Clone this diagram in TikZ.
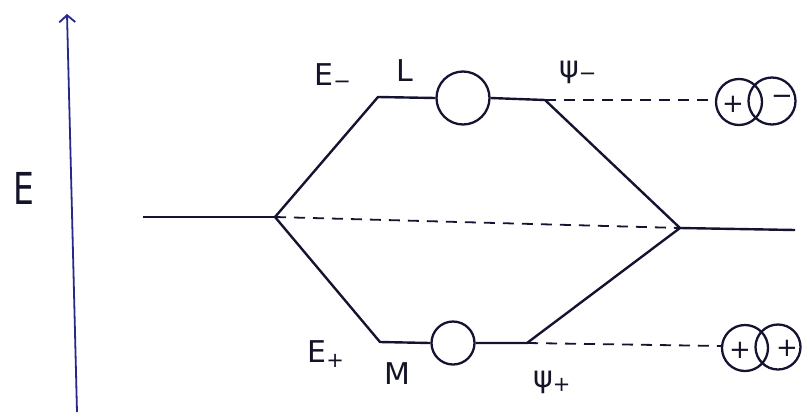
\documentclass[tikz,border=0pt]{standalone}
\usepackage{fontspec}
\setmainfont{DejaVu Sans}
\usetikzlibrary{arrows.meta}
\begin{document}
\begin{tikzpicture}[x=1pt,y=-1pt,
  ink/.style={draw={rgb,255:red,20;green,20;blue,50}, line width=2.4pt},
  axisline/.style={draw={rgb,255:red,40;green,40;blue,140}, line width=1.8pt},
  dashline/.style={ink, line width=1.8pt, dash pattern=on 11pt off 8pt},
  lobe/.style={circle, ink, line width=2.3pt, inner sep=0pt},
  lbl/.style={font=\fontsize{30}{34}\selectfont, text={rgb,255:red,20;green,20;blue,40}, inner sep=0pt},
  sgn/.style={font=\fontsize{26}{30}\selectfont, text={rgb,255:red,20;green,20;blue,40}, inner sep=0pt}]
\useasboundingbox (0,0) rectangle (810,418);
% energy axis
\coordinate (ab) at (77,412);
\coordinate (at) at (67,14);
\draw[axisline, -{Straight Barb[length=7pt,width=16pt]}] (ab) -- (at);
\node[lbl, font=\fontsize{44}{48}\selectfont, xscale=0.75] (E) at (24,188) {E};
% central level
\coordinate (c0) at (143,217);
\coordinate (cL) at (275,217);
\coordinate (cR) at (680,228);
\coordinate (c1) at (795,230);
\draw[ink] (c0) -- (cL);
\draw[ink] (cR) -- (c1);
\draw[dashline] (cL) -- (cR);
% upper (antibonding)
\coordinate (u1) at (378,97);
\node[lobe, minimum size=53pt] (uc) at (463,98) {};
\coordinate (u2) at (545,100);
\coordinate (ue) at (716,100);
\draw[ink] (cL) -- (u1) -- (uc.west);
\draw[ink] (uc.east) -- (u2) -- (cR);
\draw[dashline] (u2) -- (ue);
\node[lbl] (Em) at (333,76) {E\textsubscript{−}};
\node[lbl] (L) at (405,71) {L};
\node[lbl] (psim) at (578,72) {ψ\textsubscript{−}};
% lower (bonding)
\coordinate (l1) at (380,342);
\node[lobe, minimum size=43pt] (lc) at (453,343) {};
\coordinate (l2) at (527,343);
\coordinate (le) at (722,346);
\draw[ink] (cL) -- (l1) -- (lc.west);
\draw[ink] (lc.east) -- (l2) -- (cR);
\draw[dashline] (l2) -- (le);
\node[lbl] (Ep) at (326,354) {E\textsubscript{+}};
\node[lbl] (M) at (397,374) {M};
\node[lbl] (psip) at (552,382) {ψ\textsubscript{+}};
% orbital pictures
\node[lobe, minimum size=46pt] (oa) at (739,102) {};
\node[lobe, minimum size=47pt] (ob) at (772,101) {};
\node[sgn] (oap) at (733,104) {+};
\node[sgn] (obm) at (782,100) {−};
\node[lobe, minimum size=46pt] (oc) at (745,348) {};
\node[lobe, minimum size=45pt] (od) at (778,347) {};
\node[sgn] (ocp) at (740,350) {+};
\node[sgn] (odp) at (787,348) {+};
\end{tikzpicture}
\end{document}
